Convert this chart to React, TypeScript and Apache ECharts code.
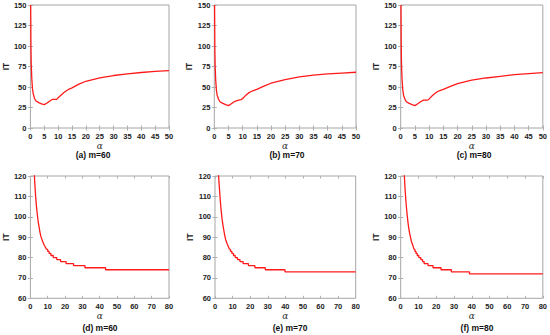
import React, { useEffect, useRef } from "react";
import * as echarts from "echarts";

// ---- data ----
const alphaTop = [0.1, 0.2, 0.3, 0.5, 0.75, 1, 1.5, 2, 3, 4, 5, 6, 7, 8, 9, 9.5, 10, 11, 12, 13, 14, 15, 17.5, 20, 25, 30, 35, 40, 45, 50];
const itA = [150, 98, 78, 60, 48, 42, 36, 33, 31, 29.5, 28.5, 30.5, 33, 35, 35, 35, 37, 40, 43, 45.5, 47.5, 49, 53.5, 57, 61, 64, 66, 67.7, 69, 70];
const itB = [150, 95, 75, 58, 46, 40, 35, 32, 30, 28.5, 27.3, 29.5, 32, 33.5, 34.3, 34.6, 36, 39.5, 42.5, 44.5, 46, 47, 51, 54.6, 59, 62.4, 64.4, 66, 67, 68];
const itC = [150, 95, 75, 58, 46, 40, 35, 32, 30, 28.5, 27.3, 29.5, 32, 34, 34, 34, 35.5, 39, 42, 44.5, 46, 47, 50.8, 54.2, 58.3, 61, 63, 65, 66.4, 67.5];

// bottom row: smooth part (alpha, IT) then staircase part (alpha where level starts, level)
const smoothAlphaD = [2.3, 2.5, 3, 3.5, 4, 4.5, 5, 5.5, 6, 7, 8, 9, 9.3];
const smoothItD = [120.5, 117, 110, 105, 101, 97.5, 95, 92.5, 90.5, 88, 86, 84.5, 84];
const stepAlphaD = [9.3, 10, 10.8, 11.8, 13.2, 15.2, 17.4, 20.6, 24.9, 31.5, 43.4, 80];
const stepItD = [84, 83, 82, 81, 80, 79, 78, 77, 76, 75, 74, 74];

const smoothAlphaE = [2.0, 2.5, 3, 3.5, 4, 4.5, 5, 5.5, 6, 7, 8, 8.2];
const smoothItE = [120.5, 114, 108, 103, 99, 96, 93.5, 91, 89, 86.5, 84.5, 84];
const stepAlphaE = [8.2, 8.8, 9.6, 10.5, 11.5, 12.8, 14.2, 16, 19, 22.7, 28.6, 39.8, 80];
const stepItE = [84, 83, 82, 81, 80, 79, 78, 77, 76, 75, 74, 73, 73];

const smoothAlphaF = [2.0, 2.5, 3, 3.5, 4, 4.5, 5, 5.5, 6, 7, 7.5];
const smoothItF = [121, 113, 107, 102, 98, 94.5, 92, 90, 88, 85.5, 84];
const stepAlphaF = [7.5, 8.0, 8.6, 9.3, 10.2, 11.3, 12.3, 13.2, 15.4, 18.2, 22.7, 28.5, 38.7, 80];
const stepItF = [84, 83, 82, 81, 80, 79, 78, 77, 76, 75, 74, 73, 72, 72];

const captions = ["(a) m=60", "(b) m=70", "(c) m=80", "(d) m=60", "(e) m=70", "(f) m=80"];
const xNameLabel = "α";
const yNameLabel = "IT";

const zip = (xs: number[], ys: number[]) => xs.map((x, i) => [x, ys[i]]);

export default function App() {
  const ref = useRef<HTMLDivElement>(null);
  useEffect(() => {
    if (!ref.current) return;
    const chart = echarts.init(ref.current, null, { renderer: "svg" });
    const grids = [
      { left: 26.7, top: 5, width: 142.3, height: 123 },
      { left: 214.3, top: 5, width: 141.7, height: 123 },
      { left: 400.7, top: 5, width: 143.3, height: 123 },
      { left: 26.7, top: 176, width: 142.3, height: 122.3 },
      { left: 215, top: 176, width: 140.7, height: 122.3 },
      { left: 400.7, top: 176, width: 143.3, height: 122.3 },
    ];
    const frame = "#a6a6a6";
    const tickColor = "#b0b0b0";
    const labelStyle = { color: "#222222", fontSize: 7.5, fontFamily: "Liberation Sans, Arial, sans-serif", fontWeight: "bold" as const };
    const xAxes: any[] = [];
    const yAxes: any[] = [];
    grids.forEach((_, i) => {
      const top = i < 3;
      const xr = top ? { min: 0, max: 50, interval: 5 } : { min: 0, max: 80, interval: 10 };
      const yr = top ? { min: 0, max: 150, interval: 25 } : { min: 60, max: 120, interval: 10 };
      xAxes.push({
        type: "value", gridIndex: i, position: "bottom", ...xr,
        axisLine: { show: false },
        axisTick: { show: true, inside: true, length: 2.5, lineStyle: { color: tickColor } },
        splitLine: { show: false },
        axisLabel: { ...labelStyle, margin: 4 },
        name: xNameLabel, nameLocation: "middle", nameGap: 13,
        nameTextStyle: { fontFamily: "DejaVu Serif, serif", fontStyle: "italic", fontSize: 9, color: "#333" },
      });
      xAxes.push({
        type: "value", gridIndex: i, position: "top", ...xr,
        axisLine: { show: false },
        axisTick: { show: true, inside: true, length: 2.5, lineStyle: { color: tickColor } },
        splitLine: { show: false }, axisLabel: { show: false },
      });
      yAxes.push({
        type: "value", gridIndex: i, position: "left", ...yr,
        axisLine: { show: false },
        axisTick: { show: true, inside: true, length: 2.5, lineStyle: { color: tickColor } },
        splitLine: { show: false },
        axisLabel: { ...labelStyle, margin: 4 },
        name: yNameLabel, nameLocation: "middle", nameGap: 18, nameRotate: 90,
        nameTextStyle: { fontFamily: "Liberation Sans, Arial, sans-serif", fontWeight: "bold", fontSize: 8.5, color: "#222" },
      });
      yAxes.push({
        type: "value", gridIndex: i, position: "right", ...yr,
        axisLine: { show: false },
        axisTick: { show: true, inside: true, length: 2.5, lineStyle: { color: tickColor } },
        splitLine: { show: false }, axisLabel: { show: false },
      });
    });
    const red = "#ff1a1a";
    const lineBase = (i: number) => ({
      type: "line", xAxisIndex: i * 2, yAxisIndex: i * 2, showSymbol: false, symbol: "none",
      lineStyle: { color: red, width: 1.3 }, clip: true, silent: true,
    });
    const series: any[] = [
      { ...lineBase(0), data: zip(alphaTop, itA) },
      { ...lineBase(1), data: zip(alphaTop, itB) },
      { ...lineBase(2), data: zip(alphaTop, itC) },
      { ...lineBase(3), data: zip(smoothAlphaD, smoothItD) },
      { ...lineBase(3), step: "end", data: zip(stepAlphaD, stepItD) },
      { ...lineBase(4), data: zip(smoothAlphaE, smoothItE) },
      { ...lineBase(4), step: "end", data: zip(stepAlphaE, stepItE) },
      { ...lineBase(5), data: zip(smoothAlphaF, smoothItF) },
      { ...lineBase(5), step: "end", data: zip(stepAlphaF, stepItF) },
    ];
    const capPos = [[93, 155], [287, 155], [474, 155], [100, 328], [290, 328], [477, 328]];
    const graphic = captions.map((c, i) => ({
      type: "text", x: capPos[i][0], y: capPos[i][1],
      style: { text: c, fill: "#111", font: "bold 8.5px 'Liberation Sans', Arial, sans-serif", textAlign: "center", textVerticalAlign: "middle" },
    }));
    chart.setOption({
      animation: false,
      backgroundColor: "#ffffff",
      grid: grids.map((g) => ({ ...g, show: true, borderColor: frame, borderWidth: 1, backgroundColor: "transparent", containLabel: false })),
      xAxis: xAxes,
      yAxis: yAxes,
      series,
      graphic,
    });
    return () => chart.dispose();
  }, []);
  return <div ref={ref} style={{ position: "fixed", left: 0, top: 0, width: 550, height: 335 }} />;
}
